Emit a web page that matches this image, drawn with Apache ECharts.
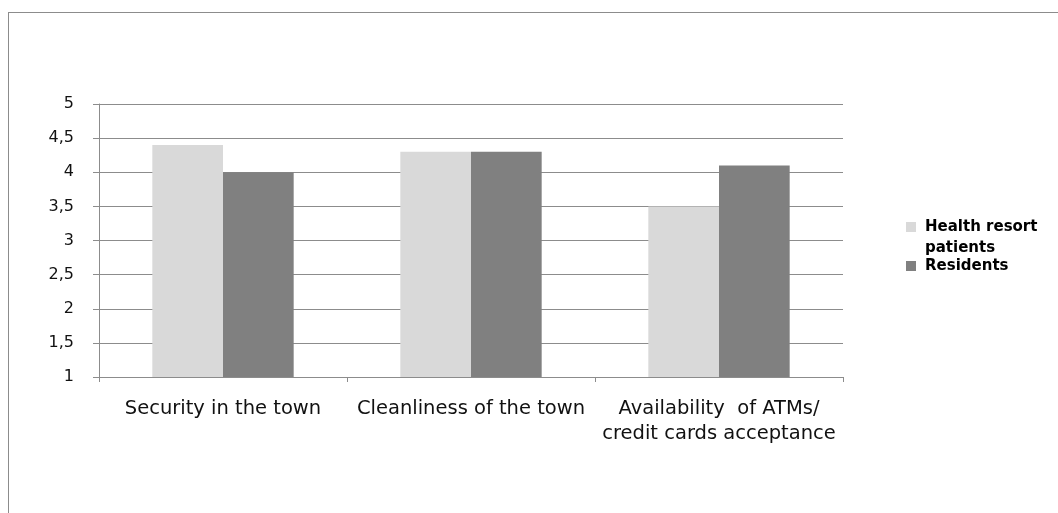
<!DOCTYPE html>
<html><head><meta charset="utf-8">
<script src="https://cdn.jsdelivr.net/npm/echarts@6/dist/echarts.min.js"></script>
<style>
html,body{margin:0;padding:0;background:#fff;}
#frame{position:absolute;left:8px;top:12px;width:1100px;height:600px;border-left:1px solid #8c8c8c;border-top:1px solid #8c8c8c;}
#c{position:absolute;left:0;top:0;width:1058px;height:513px;}
</style></head>
<body>
<div id="frame"></div>
<div id="c"></div>
<script>
const categories = ['Security in the town', 'Cleanliness of the town', 'Availability  of ATMs/\ncredit cards acceptance'];
const healthResortPatients = [4.4, 4.3, 3.5];
const residents = [4.0, 4.3, 4.1];
const yTicks = [1, 1.5, 2, 2.5, 3, 3.5, 4, 4.5, 5];

const chart = echarts.init(document.getElementById('c'), null, {renderer: 'canvas'});
chart.setOption({
  backgroundColor: 'transparent',
  animation: false,
  grid: {left: 99, right: 215, top: 104, bottom: 136, containLabel: false},
  legend: {
    orient: 'vertical', left: 906, top: 218, padding: 0, itemWidth: 10, itemHeight: 10, itemGap: 21,
    icon: 'rect',
    textStyle: {fontFamily: 'DejaVu Sans', fontSize: 15, fontWeight: 'bold', color: '#000', lineHeight: 18, padding: [0, 0, 0, 4]},
    formatter: n => n === 'Health resort patients' ? 'Health resort' : n,
    data: ['Health resort patients', 'Residents']
  },
  graphic: [{type: 'text', style: {x: 925, y: 248, verticalAlign: 'middle', text: 'patients', fontFamily: 'DejaVu Sans', fontSize: 15, fontWeight: 'bold', fill: '#000'}}],
  xAxis: {
    type: 'category', data: categories,
    axisLine: {lineStyle: {color: '#8c8c8c'}},
    axisTick: {show: true, length: 5, lineStyle: {color: '#8c8c8c'}},
    axisLabel: {fontFamily: 'DejaVu Sans', fontSize: 19.5, color: '#111', margin: 19, lineHeight: 25, interval: 0}
  },
  yAxis: {
    type: 'value', min: yTicks[0], max: yTicks[yTicks.length - 1], interval: 0.5,
    axisLine: {show: true, lineStyle: {color: '#8c8c8c'}},
    axisTick: {show: true, length: 6, lineStyle: {color: '#8c8c8c'}},
    splitLine: {lineStyle: {color: '#8c8c8c'}},
    axisLabel: {fontFamily: 'DejaVu Sans', fontSize: 16, color: '#111', margin: 25,
      formatter: v => String(v).replace('.', ',')}
  },
  series: [
    {name: 'Health resort patients', type: 'bar', data: healthResortPatients, barGap: '0%', barCategoryGap: '43%',
     itemStyle: {color: '#d9d9d9'}},
    {name: 'Residents', type: 'bar', data: residents, barGap: '0%', barCategoryGap: '43%',
     itemStyle: {color: '#808080'}}
  ]
});
</script>
</body></html>
